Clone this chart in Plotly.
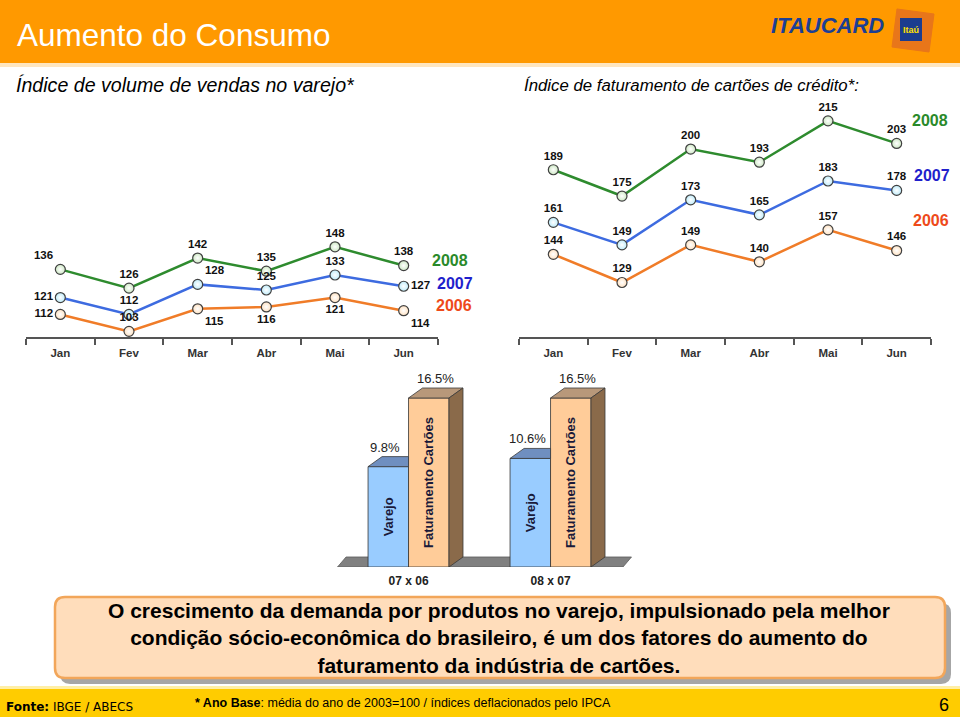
import plotly.graph_objects as go

# ---------------- data ----------------
months = ["Jan", "Fev", "Mar", "Abr", "Mai", "Jun"]
years = ["2008", "2007", "2006"]
varejo_2008 = [136, 126, 142, 135, 148, 138]
varejo_2007 = [121, 112, 128, 125, 133, 127]
varejo_2006 = [112, 103, 115, 116, 121, 114]
cartoes_2008 = [189, 175, 200, 193, 215, 203]
cartoes_2007 = [161, 149, 173, 165, 183, 178]
cartoes_2006 = [144, 129, 149, 140, 157, 146]

periods = ["07 x 06", "08 x 07"]
bar_names = ["Varejo", "Faturamento Cartões"]
cresc_varejo = [9.8, 10.6]
cresc_cartoes = [16.5, 16.5]

# ---------------- helpers / styles ----------------
W, H = 960, 717
def px(x):
    return x / W
def py(y):
    return 1 - y / H

FONT = "Liberation Sans, Arial, sans-serif"
line_col = {"2008": "#2E8B2E", "2007": "#3D6BE0", "2006": "#F07C28"}
mk_col = {"2008": "#CDE8C4", "2007": "#BDEBFA", "2006": "#FFE2C2"}
name_col = {"2008": "#2A8A2A", "2007": "#1F1FCC", "2006": "#EE4A1A"}

left_series = {"2008": varejo_2008, "2007": varejo_2007, "2006": varejo_2006}
right_series = {"2008": cartoes_2008, "2007": cartoes_2007, "2006": cartoes_2006}
left_pos = {
    "2008": ["top left", "top center", "top center", "top center", "top center", "top center"],
    "2007": ["middle left", "top center", "top right", "top center", "top center", "middle right"],
    "2006": ["middle left", "top center", "bottom right", "bottom center", "bottom center", "bottom right"],
}
right_pos = {
    "2008": ["top center"] * 6,
    "2007": ["top center"] * 6,
    "2006": ["top center"] * 6,
}

fig = go.Figure()

for axes, series, pos in (("1", left_series, left_pos), ("2", right_series, right_pos)):
    for yr in years:
        fig.add_trace(go.Scatter(
            x=months, y=series[yr], mode="lines+markers+text",
            text=[str(v) for v in series[yr]], textposition=pos[yr],
            textfont=dict(family=FONT, size=11.5, color="#111111", weight="bold"),
            line=dict(color=line_col[yr], width=2.5),
            marker=dict(size=10, color=mk_col[yr],
                        gradient=dict(type="radial", color="#FFFFFF"),
                        line=dict(color="#404040", width=1.2)),
            cliponaxis=False, hoverinfo="skip",
            xaxis="x" if axes == "1" else "x2",
            yaxis="y" if axes == "1" else "y2",
        ))

# ---------------- 3D bars ----------------
w = 0.285      # bar width (x3 units)
dx = 0.0986    # depth offset x
dy = 0.977     # depth offset y
idx = list(range(len(periods)))

fig.add_trace(go.Bar(
    x=idx, y=cresc_varejo, width=w, offset=-w,
    marker=dict(color="#99CCFF", line=dict(color="#333333", width=0.8)),
    text=[bar_names[0]] * len(idx), textposition="inside", textangle=-90,
    insidetextanchor="middle",
    textfont=dict(family=FONT, size=13, color="#1A1A3A", weight="bold"),
    hoverinfo="skip", xaxis="x3", yaxis="y3",
))
fig.add_trace(go.Bar(
    x=idx, y=cresc_cartoes, width=w, offset=0,
    marker=dict(color="#FFCC99", line=dict(color="#333333", width=0.8)),
    text=[bar_names[1]] * len(idx), textposition="inside", textangle=-90,
    insidetextanchor="middle",
    textfont=dict(family=FONT, size=13, color="#1A1A3A", weight="bold"),
    hoverinfo="skip", xaxis="x3", yaxis="y3",
))

def poly_trace(polys, color):
    xs, ys = [], []
    for p in polys:
        for (a, b) in p:
            xs.append(a)
            ys.append(b)
        xs.append(p[0][0]); ys.append(p[0][1])
        xs.append(None); ys.append(None)
    return go.Scatter(x=xs, y=ys, mode="lines", fill="toself", fillcolor=color,
                      line=dict(color="#3A3A3A", width=0.8), hoverinfo="skip",
                      xaxis="x3", yaxis="y3")

var_top = [[(i - w, v), (i - w + dx, v + dy), (i, v + dy), (i, v)]
           for i, v in zip(idx, cresc_varejo)]
car_top = [[(i, c), (i + dx, c + dy), (i + w + dx, c + dy), (i + w, c)]
           for i, c in zip(idx, cresc_cartoes)]
car_side = [[(i + w, 0), (i + w + dx, dy), (i + w + dx, c + dy), (i + w, c)]
            for i, c in zip(idx, cresc_cartoes)]
fig.add_trace(poly_trace(var_top, "#6F8FC0"))
fig.add_trace(poly_trace(car_top, "#B8987A"))
fig.add_trace(poly_trace(car_side, "#8A6A4A"))

# ---------------- shapes ----------------
shapes = []
def rect(x0, y0, x1, y1, fill, line=None, lw=0):
    return dict(type="rect", xref="paper", yref="paper", x0=px(x0), x1=px(x1),
                y0=py(y1), y1=py(y0), fillcolor=fill,
                line=dict(color=line or fill, width=lw), layer="below")

def rrect_path(x0, y0, x1, y1, r):
    P = lambda x, y: f"{px(x):.5f},{py(y):.5f}"
    return (f"M {P(x0 + r, y0)} L {P(x1 - r, y0)} Q {P(x1, y0)} {P(x1, y0 + r)} "
            f"L {P(x1, y1 - r)} Q {P(x1, y1)} {P(x1 - r, y1)} L {P(x0 + r, y1)} "
            f"Q {P(x0, y1)} {P(x0, y1 - r)} L {P(x0, y0 + r)} Q {P(x0, y0)} {P(x0 + r, y0)} Z")

shapes.append(rect(0, 0, 960, 63, "#FF9900"))
shapes.append(rect(0, 63, 960, 67, "#FFE6BF"))
# logo
logo_pts = [(897, 9), (934, 14), (929, 52), (892, 47)]
shapes.append(dict(type="path", xref="paper", yref="paper", layer="below",
                   path="M " + " L ".join(f"{px(a):.5f},{py(b):.5f}" for a, b in logo_pts) + " Z",
                   fillcolor="#E8761A", line=dict(color="#E8761A", width=1)))
shapes.append(rect(900, 18, 922, 41, "#1B3C8F"))
# text box
shapes.append(dict(type="path", xref="paper", yref="paper", layer="below",
                   path=rrect_path(60, 603, 951, 684, 10), fillcolor="#A6A6A6",
                   line=dict(width=0)))
shapes.append(dict(type="path", xref="paper", yref="paper", layer="below",
                   path=rrect_path(55, 597, 945, 678, 10), fillcolor="#FFDDBB",
                   line=dict(color="#F2A65A", width=2.5)))
# footer
shapes.append(rect(0, 687, 960, 717, "#FFCC00"))
shapes.append(rect(0, 686, 960, 689, "#FFEFA6"))
# bar floor (in bar axis units)
fx0, fx1, fdx = -0.50, 1.51, 0.06
shapes.append(dict(type="path", xref="x3", yref="y3", layer="below",
                   path=f"M {fx0},0 L {fx0 + fdx},{dy} L {fx1 + fdx},{dy} L {fx1},0 Z",
                   fillcolor="#808080", line=dict(color="#5A5A5A", width=0.8)))

# ---------------- annotations ----------------
ann = []
def txt(x, y, s, size, color="#000000", xanchor="center", yanchor="middle",
        family=FONT, bold=False, italic=False, align="center"):
    ann.append(dict(x=px(x), y=py(y), xref="paper", yref="paper", text=s,
                    showarrow=False, xanchor=xanchor, yanchor=yanchor, align=align,
                    font=dict(family=family, size=size, color=color,
                              weight="bold" if bold else "normal",
                              style="italic" if italic else "normal")))

txt(15, 35, "Aumento do Consumo", 31.5, "#FFFFFF", xanchor="left")
txt(827, 25, "ITAUCARD", 22, "#1C3F94", bold=True, italic=True)
txt(911, 30, "Itaú", 9, "#FFE000", bold=True)
txt(14, 85, "Índice de volume de vendas no varejo*", 19.6, "#000000", xanchor="left", italic=True)
txt(522, 85, "Índice de faturamento de cartões de crédito*:", 16.8, "#000000", xanchor="left", italic=True)

left_name_xy = {"2008": (450, 260), "2007": (455, 284), "2006": (454, 305)}
right_name_xy = {"2008": (930, 120), "2007": (932, 175), "2006": (931, 221)}
for yr in years:
    txt(*left_name_xy[yr], yr, 16, name_col[yr], bold=True)
    txt(*right_name_xy[yr], yr, 16, name_col[yr], bold=True)

for i, v in zip(idx, cresc_varejo):
    ann.append(dict(x=i - w / 2, y=v + dy, xref="x3", yref="y3", text=f"{v:.1f}%",
                    showarrow=False, xanchor="center", yanchor="bottom", xshift=-3,
                    font=dict(family=FONT, size=13, color="#222222")))
for i, c in zip(idx, cresc_cartoes):
    ann.append(dict(x=i + w / 2 + dx / 2, y=c + dy, xref="x3", yref="y3", text=f"{c:.1f}%",
                    showarrow=False, xanchor="center", yanchor="bottom",
                    font=dict(family=FONT, size=13, color="#222222")))

txt(499, 638, "O crescimento da demanda por produtos no varejo, impulsionado pela melhor<br>"
    "condição sócio-econômica do brasileiro, é um dos fatores do aumento do<br>"
    "faturamento da indústria de cartões.", 21, "#000000", bold=True)

txt(4, 707, "<b>Fonte:</b> IBGE / ABECS", 12, "#000000", xanchor="left",
    family="DejaVu Sans, Verdana, sans-serif")
txt(193, 703, "<b>* Ano Base</b>: média do ano de 2003=100 / índices deflacionados pelo IPCA",
    12.5, "#000000", xanchor="left")
txt(944, 705, "6", 18, "#000000")

# ---------------- layout ----------------
cat_axis = dict(type="category", range=[-0.5, 5.5], tickson="boundaries",
                ticks="outside", ticklen=6, tickwidth=1.5, tickcolor="#555555",
                showline=True, linecolor="#555555", linewidth=1.5, showgrid=False,
                zeroline=False, fixedrange=True, ticklabelstandoff=4,
                tickfont=dict(family=FONT, size=11.5, color="#333333", weight="bold"))
val_axis = dict(range=[100, 226.1], visible=False, showgrid=False, fixedrange=True,
                domain=[py(337), py(100)])

fig.update_layout(
    width=W, height=H, margin=dict(l=0, r=0, t=0, b=0),
    paper_bgcolor="white", plot_bgcolor="rgba(0,0,0,0)",
    showlegend=False, barmode="overlay",
    font=dict(family=FONT),
    xaxis=dict(cat_axis, domain=[px(26), px(438)], anchor="y"),
    yaxis=dict(val_axis, anchor="x"),
    xaxis2=dict(cat_axis, domain=[px(519), px(931)], anchor="y2"),
    yaxis2=dict(val_axis, anchor="x2"),
    xaxis3=dict(domain=[px(330), px(640)], range=[-0.553, 1.630], anchor="y3",
                tickvals=idx, ticktext=periods, ticks="", showline=False,
                showgrid=False, zeroline=False, fixedrange=True, ticklabelstandoff=5,
                tickfont=dict(family=FONT, size=12, color="#222222", weight="bold")),
    yaxis3=dict(domain=[py(567), py(372.4)], range=[0, 19], visible=False,
                showgrid=False, fixedrange=True, anchor="x3"),
    shapes=shapes, annotations=ann,
)

fig.write_html("out.html", config={"displayModeBar": False},
               post_script="document.body.style.margin='0';")
